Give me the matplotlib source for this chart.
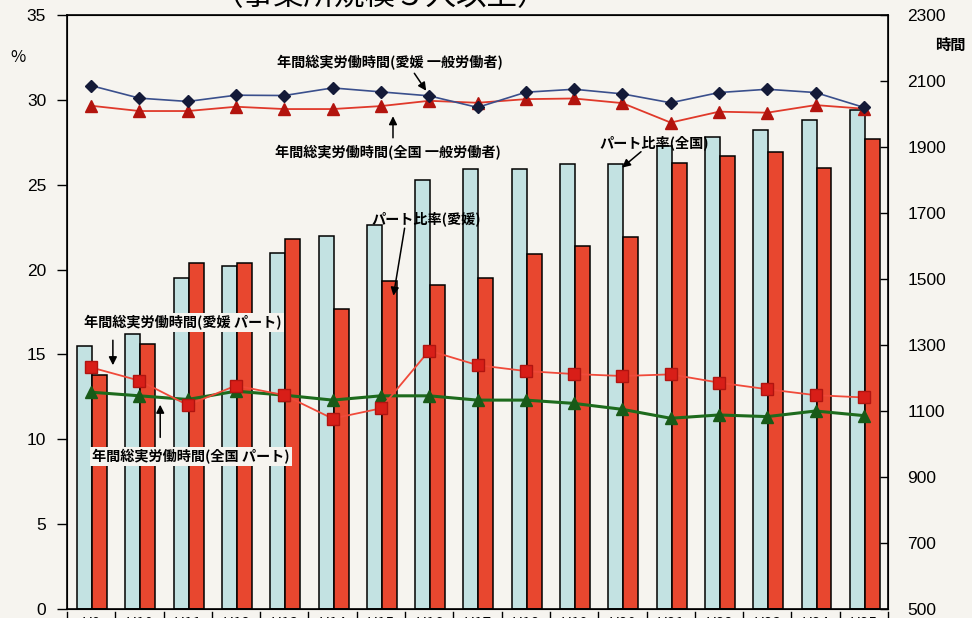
import matplotlib
matplotlib.use("Agg")
import matplotlib.pyplot as plt
import numpy as np

plt.rcParams['font.family'] = ['Noto Sans CJK JP', 'DejaVu Sans']

years = ["H9", "H10", "H11", "H12", "H13", "H14", "H15", "H16", "H17",
         "H18", "H19", "H20", "H21", "H22", "H23", "H24", "H25"]

# パート比率 (%)
part_zenkoku = [15.5, 16.2, 19.5, 20.2, 21.0, 22.0, 22.6, 25.3, 25.9,
                25.9, 26.2, 26.2, 27.3, 27.8, 28.2, 28.8, 29.4]
part_ehime = [13.8, 15.6, 20.4, 20.4, 21.8, 17.7, 19.3, 19.1, 19.5,
              20.9, 21.4, 21.9, 26.3, 26.7, 26.9, 26.0, 27.7]

# 年間総実労働時間 (時間)
hours_ehime_gen = [2086, 2048, 2038, 2057, 2056, 2079, 2067, 2055, 2020,
                   2066, 2075, 2061, 2034, 2065, 2075, 2065, 2020]
hours_zen_gen = [2025, 2009, 2009, 2022, 2015, 2015, 2024, 2040, 2034,
                 2045, 2047, 2033, 1974, 2007, 2004, 2027, 2016]
hours_ehime_part = [1232, 1192, 1118, 1177, 1148, 1077, 1108, 1283, 1239,
                    1221, 1212, 1206, 1211, 1186, 1166, 1148, 1141]
hours_zen_part = [1157, 1146, 1135, 1160, 1148, 1133, 1146, 1146, 1133,
                  1133, 1123, 1105, 1078, 1088, 1083, 1100, 1086]

bg = '#f6f4ef'
fig = plt.figure(figsize=(9.72, 6.18), dpi=100, facecolor=bg)
ax = fig.add_axes([67/972, 9/618, 821/972, 594/618])
ax.set_facecolor(bg)

x = np.arange(len(years))
w = 0.31
ax.bar(x - w/2 + 0.02, part_zenkoku, w, color='#c3e2e2', edgecolor='black', linewidth=1.1, zorder=2)
ax.bar(x + w/2 + 0.02, part_ehime, w, color='#e8472f', edgecolor='black', linewidth=1.1, zorder=2)

ax.set_xlim(-0.5, len(years) - 0.5)
ax.set_ylim(0, 35)
ax.set_yticks(np.arange(0, 36, 5))
ax.tick_params(axis='y', direction='out', length=7, width=1, labelsize=12.5, pad=8)
for lab in ax.get_yticklabels():
    lab.set_family(['Liberation Sans', 'DejaVu Sans'])
ax.set_xticks(x)
ax.set_xticklabels(years, fontsize=11)
ax.tick_params(axis='x', length=0, pad=5)
for s in ax.spines.values():
    s.set_linewidth(1.2)

# table-like separators under the axis
for b in np.arange(-0.5, len(years), 1.0):
    ax.plot([b, b], [-0.2, -1.0], color='black', lw=1, clip_on=False)

ax2 = ax.twinx()
ax2.set_ylim(500, 2300)
ax2.set_yticks(np.arange(500, 2301, 200))
ax2.tick_params(axis='y', direction='in', length=6, width=1, labelsize=12.5, pad=14)
for lab in ax2.get_yticklabels():
    lab.set_family(['Liberation Sans', 'DejaVu Sans'])

ax2.plot(x, hours_zen_gen, color='#e0392a', lw=1.3, marker='^', ms=8,
         mfc='#b3140e', mec='#b3140e', zorder=3)
ax2.plot(x, hours_ehime_gen, color='#3a4f8c', lw=1.2, marker='D', ms=6.5,
         mfc='#141a38', mec='#141a38', zorder=4)
ax2.plot(x, hours_ehime_part, color='#f04a3a', lw=1.3, marker='s', ms=8.5,
         mfc='#d81e18', mec='#b01410', zorder=4)
ax2.plot(x, hours_zen_part, color='#1d6b1d', lw=2.2, marker='^', ms=8,
         mfc='#185a18', mec='#185a18', zorder=3)

tkw = dict(fontsize=10.2, fontweight='bold', ha='center', va='center', zorder=6)
akw = dict(arrowstyle='-|>', color='black', lw=1.1, mutation_scale=12)
box = dict(boxstyle='square,pad=0.15', facecolor=bg, edgecolor='none')

ax.text(6.19, 32.2, "年間総実労働時間(愛媛 一般労働者)", **tkw)
ax.annotate('', xy=(6.97, 30.4), xytext=(6.66, 31.7), arrowprops=akw, zorder=6)

ax.text(6.15, 26.9, "年間総実労働時間(全国 一般労働者)", **tkw)
ax.annotate('', xy=(6.25, 29.2), xytext=(6.25, 27.6), arrowprops=akw, zorder=6)

ax.text(11.65, 27.5, "パート比率(全国)", **tkw)
ax.annotate('', xy=(10.95, 25.9), xytext=(11.43, 27.05), arrowprops=akw, zorder=6)

ax.text(6.93, 23.0, "パート比率(愛媛)", **tkw)
ax.annotate('', xy=(6.25, 18.3), xytext=(6.5, 22.6), arrowprops=akw, zorder=6)

ax.text(1.9, 16.9, "年間総実労働時間(愛媛 パート)", bbox=box, **tkw)
ax.annotate('', xy=(0.45, 14.2), xytext=(0.45, 16.0), arrowprops=akw, zorder=6)

ax.text(2.07, 9.0, "年間総実労働時間(全国 パート)", bbox=box, **tkw)
ax.annotate('', xy=(1.43, 12.2), xytext=(1.43, 9.95), arrowprops=akw, zorder=6)

fig.text(18/972, 1 - 58/618, "%", fontsize=12, ha='center', va='center')
fig.text(950/972, 1 - 45/618, "時間", fontsize=11, fontweight='bold', ha='center', va='center')
fig.text(380/972, 1 + 3/618, "（事業所規模５人以上）", fontsize=22, ha='center', va='center')

fig.savefig("out.png", dpi=100, facecolor=bg)
